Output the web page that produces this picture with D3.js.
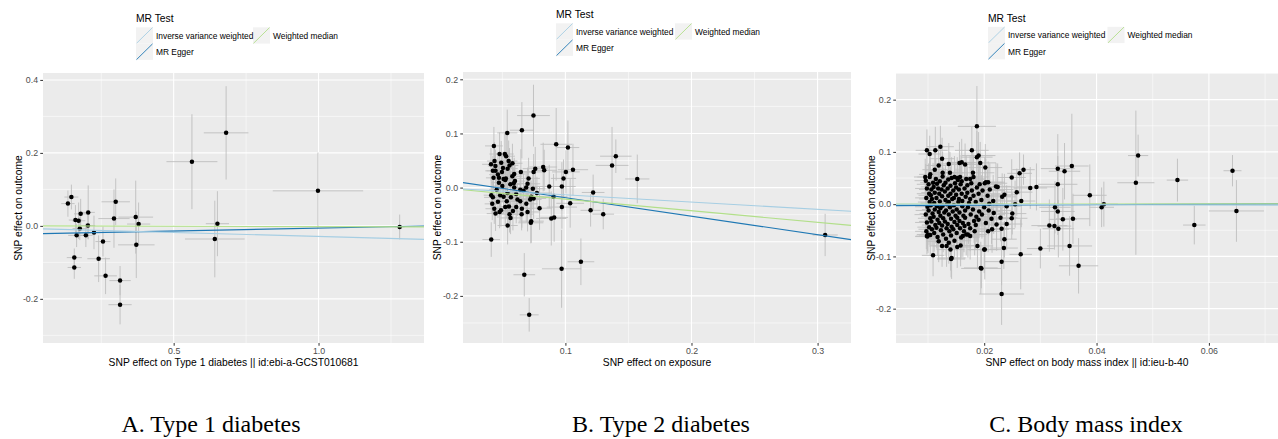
<!DOCTYPE html>
<html>
<head>
<meta charset="utf-8">
<script src="https://cdn.jsdelivr.net/npm/d3@7.9.0/dist/d3.min.js"></script>
<style>
  body { margin: 0; background: #fff; }
  svg { display: block; font-family: "Liberation Sans", Arial, sans-serif; }
</style>
</head>
<body>
<div id="chart"></div>
<script>
// MR methods, same order / colours as the TwoSampleMR scatter plot
const methods = ['Inverse variance weighted', 'MR Egger', 'Weighted median'];
const methodColors = ['#a6cee3', '#1f78b4', '#b2df8a'];
const drawOrder = [1, 2, 0]; // Egger, WM, IVW (order of mr() results)
const legendTitle = 'MR Test';
const yTitle = 'SNP effect on outcome';

// ---- A. Type 1 diabetes : [beta.exposure, beta.outcome, se.exposure, se.outcome]
const t1dSnps = [
  [0.135, 0.061, 0.023, 0.036], [0.147, 0.079, 0.024, 0.034], [0.161, 0.016, 0.023, 0.041],
  [0.172, 0.014, 0.023, 0.050], [0.179, 0.033, 0.023, 0.041], [0.205, 0.037, 0.023, 0.074],
  [0.165, -0.026, 0.029, 0.032], [0.176, -0.007, 0.025, 0.032], [0.204, 0.001, 0.025, 0.036],
  [0.197, -0.026, 0.023, 0.032], [0.225, -0.018, 0.023, 0.046], [0.157, -0.087, 0.026, 0.025],
  [0.157, -0.114, 0.023, 0.031], [0.256, -0.043, 0.026, 0.041], [0.241, -0.090, 0.039, 0.064],
  [0.265, -0.137, 0.039, 0.050], [0.294, 0.020, 0.054, 0.080], [0.300, 0.066, 0.049, 0.064],
  [0.315, -0.150, 0.037, 0.040], [0.315, -0.216, 0.040, 0.054], [0.369, 0.024, 0.060, 0.100],
  [0.379, 0.005, 0.040, 0.059], [0.371, -0.052, 0.063, 0.091], [0.563, 0.176, 0.088, 0.130],
  [0.681, 0.255, 0.077, 0.128], [0.651, 0.006, 0.040, 0.089], [0.642, -0.036, 0.103, 0.105],
  [0.998, 0.096, 0.156, 0.105], [1.280, -0.003, 0.017, 0.034]
];
const t1dIntercepts = [-0.007, -0.022, 0];
const t1dSlopes = [-0.022, 0.016, -0.002];
const t1dXTicks = [0.5, 1.0];
const t1dXLabels = ['0.5', '1.0'];
const t1dXMinor = [0.25, 0.75, 1.25];
const t1dYTicks = [-0.2, 0, 0.2, 0.4];
const t1dYLabels = ['-0.2', '0.0', '0.2', '0.4'];
const t1dYMinor = [-0.3, -0.1, 0.1, 0.3];

// ---- B. Type 2 diabetes
const t2dSnps = [
  [0.0747, 0.133, 0.013, 0.057], [0.0655, 0.106, 0.0095, 0.052], [0.0539, 0.101, 0.008, 0.043],
  [0.0927, 0.080, 0.0125, 0.067], [0.102, 0.074, 0.009, 0.050], [0.0433, 0.077, 0.007, 0.035],
  [0.0478, 0.062, 0.008, 0.040], [0.053, 0.058, 0.007, 0.045], [0.041, 0.043, 0.007, 0.030],
  [0.0438, 0.049, 0.006, 0.035], [0.0491, 0.046, 0.008, 0.040], [0.055, 0.049, 0.007, 0.038],
  [0.0557, 0.041, 0.007, 0.032], [0.0542, 0.035, 0.008, 0.030], [0.0425, 0.031, 0.006, 0.028],
  [0.0446, 0.031, 0.007, 0.030], [0.0497, 0.029, 0.006, 0.033], [0.0473, 0.018, 0.007, 0.030],
  [0.051, 0.016, 0.007, 0.035], [0.0528, 0.017, 0.008, 0.028], [0.0579, 0.021, 0.008, 0.037],
  [0.0594, 0.025, 0.009, 0.030], [0.0647, 0.029, 0.009, 0.042], [0.0761, 0.035, 0.010, 0.040],
  [0.0748, 0.029, 0.009, 0.033], [0.0824, 0.038, 0.011, 0.045], [0.0832, 0.032, 0.010, 0.038],
  [0.1004, 0.029, 0.011, 0.040], [0.106, 0.033, 0.012, 0.048], [0.0985, 0.017, 0.010, 0.035],
  [0.0473, 0.009, 0.006, 0.030], [0.0523, 0.014, 0.007, 0.032], [0.0563, 0.006, 0.008, 0.028],
  [0.0594, 0.000, 0.008, 0.034], [0.0642, -0.004, 0.009, 0.030], [0.0708, 0.017, 0.009, 0.038],
  [0.070, 0.007, 0.010, 0.030], [0.0689, 0.000, 0.009, 0.028], [0.0668, -0.006, 0.008, 0.032],
  [0.0742, -0.002, 0.010, 0.035], [0.0774, -0.010, 0.011, 0.030], [0.0872, 0.002, 0.012, 0.040],
  [0.0972, 0.002, 0.011, 0.045], [0.0412, -0.014, 0.006, 0.028], [0.0425, -0.018, 0.007, 0.030],
  [0.0483, -0.014, 0.007, 0.033], [0.051, -0.017, 0.008, 0.030], [0.0541, -0.010, 0.007, 0.035],
  [0.0568, -0.018, 0.008, 0.030], [0.061, -0.012, 0.008, 0.032], [0.0642, -0.025, 0.009, 0.036],
  [0.0721, -0.022, 0.009, 0.033], [0.0729, -0.017, 0.010, 0.030], [0.0748, -0.020, 0.010, 0.038],
  [0.0906, -0.017, 0.011, 0.042], [0.0972, -0.036, 0.012, 0.040], [0.1038, -0.029, 0.011, 0.045],
  [0.042, -0.030, 0.006, 0.030], [0.0436, -0.039, 0.007, 0.028], [0.0489, -0.042, 0.007, 0.030],
  [0.0523, -0.036, 0.008, 0.033], [0.0552, -0.035, 0.007, 0.030], [0.0584, -0.043, 0.008, 0.036],
  [0.061, -0.036, 0.009, 0.030], [0.0655, -0.039, 0.009, 0.035], [0.0795, -0.038, 0.010, 0.040],
  [0.0446, -0.048, 0.007, 0.032], [0.0478, -0.045, 0.007, 0.030], [0.0557, -0.049, 0.008, 0.034],
  [0.0653, -0.049, 0.009, 0.030], [0.0888, -0.057, 0.012, 0.050], [0.0911, -0.055, 0.011, 0.045],
  [0.0729, -0.062, 0.010, 0.040], [0.0726, -0.065, 0.010, 0.038], [0.0542, -0.070, 0.008, 0.035],
  [0.0412, -0.096, 0.007, 0.032], [0.097, -0.150, 0.0156, 0.072], [0.1123, -0.137, 0.0106, 0.043],
  [0.122, -0.009, 0.009, 0.033], [0.120, -0.042, 0.008, 0.030], [0.130, -0.049, 0.0086, 0.028],
  [0.140, 0.058, 0.0125, 0.031], [0.137, 0.041, 0.013, 0.071], [0.157, 0.016, 0.0096, 0.045],
  [0.306, -0.0875, 0.010, 0.039], [0.0674, -0.161, 0.0086, 0.040], [0.0713, -0.235, 0.0075, 0.031],
  [0.0445, 0.040, 0.006, 0.030], [0.0465, 0.024, 0.007, 0.032], [0.0505, 0.036, 0.007, 0.030],
  [0.058, 0.045, 0.008, 0.036], [0.060, 0.012, 0.008, 0.030], [0.0455, -0.004, 0.006, 0.028],
  [0.050, 0.003, 0.007, 0.030], [0.0535, -0.025, 0.007, 0.032], [0.062, -0.022, 0.008, 0.030],
  [0.069, -0.030, 0.009, 0.034], [0.0465, -0.026, 0.007, 0.030], [0.059, 0.008, 0.008, 0.030],
  [0.043, 0.018, 0.006, 0.030], [0.052, 0.062, 0.007, 0.040], [0.070, -0.045, 0.009, 0.036],
  [0.0565, -0.056, 0.008, 0.030]
];
const t2dIntercepts = [0, 0.0156, 0];
const t2dSlopes = [-0.134, -0.342, -0.2135];
const t2dXTicks = [0.1, 0.2, 0.3];
const t2dXLabels = ['0.1', '0.2', '0.3'];
const t2dXMinor = [0.05, 0.15, 0.25];
const t2dYTicks = [-0.2, -0.1, 0, 0.1, 0.2];
const t2dYLabels = ['-0.2', '-0.1', '0.0', '0.1', '0.2'];
const t2dYMinor = [-0.25, -0.15, -0.05, 0.05, 0.15];

// ---- C. Body mass index
const bmiSnps = [
  // sparse points
  [0.0187, 0.149, 0.0034, 0.077], [0.0474, 0.093, 0.0018, 0.040], [0.0470, 0.041, 0.0033, 0.138],
  [0.0544, 0.046, 0.0019, 0.041], [0.0642, 0.064, 0.0016, 0.030], [0.0649, -0.013, 0.0049, 0.059],
  [0.0574, -0.040, 0.0020, 0.037], [0.0388, 0.017, 0.0030, 0.059], [0.0413, 0.000, 0.0025, 0.043],
  [0.0409, -0.006, 0.0022, 0.038], [0.0368, -0.118, 0.0035, 0.053], [0.0352, -0.080, 0.0040, 0.057],
  [0.0300, -0.085, 0.0024, 0.038], [0.0265, -0.096, 0.0020, 0.067], [0.0231, -0.172, 0.0040, 0.059],
  [0.0195, -0.123, 0.0036, 0.038], [0.0201, -0.087, 0.0024, 0.057], [0.0231, -0.110, 0.0030, 0.045],
  [0.0235, -0.084, 0.0025, 0.040], [0.0236, -0.067, 0.0022, 0.035], [0.0249, 0.051, 0.0025, 0.035],
  [0.0263, 0.059, 0.0022, 0.040], [0.0270, 0.066, 0.0020, 0.029], [0.0258, 0.023, 0.0028, 0.045],
  [0.0266, 0.006, 0.0025, 0.050], [0.0282, 0.031, 0.0030, 0.040], [0.0293, 0.033, 0.0035, 0.045],
  [0.0331, 0.068, 0.0030, 0.066], [0.0343, 0.063, 0.0028, 0.054], [0.0356, 0.073, 0.0030, 0.100],
  [0.0331, 0.038, 0.0035, 0.054], [0.0326, -0.006, 0.0028, 0.050], [0.0331, -0.014, 0.0030, 0.045],
  [0.0340, -0.029, 0.0025, 0.060], [0.0358, -0.028, 0.0030, 0.048], [0.0316, -0.041, 0.0032, 0.050],
  [0.0325, -0.042, 0.0030, 0.045], [0.0332, -0.047, 0.0028, 0.055], [0.0250, -0.018, 0.0025, 0.040],
  [0.0255, 0.000, 0.0028, 0.045], [0.0240, -0.004, 0.0025, 0.040], [0.0236, 0.018, 0.0022, 0.040],
  [0.0232, 0.014, 0.0025, 0.045], [0.0240, -0.038, 0.0028, 0.050], [0.0231, -0.047, 0.0024, 0.040],
  [0.0221, 0.034, 0.0026, 0.045], [0.0222, -0.039, 0.0025, 0.050], [0.0214, -0.048, 0.0030, 0.045],
  [0.0207, -0.052, 0.0024, 0.040], [0.0217, -0.017, 0.0026, 0.040], [0.0209, 0.001, 0.0025, 0.045],
  [0.0249, -0.027, 0.0028, 0.040], [0.0229, -0.026, 0.0030, 0.045],
  // upper edge of the cluster
  [0.0098, 0.103, 0.0020, 0.040], [0.0103, 0.096, 0.0020, 0.035], [0.0113, 0.103, 0.0022, 0.045],
  [0.0122, 0.110, 0.0024, 0.040], [0.0125, 0.087, 0.0022, 0.040], [0.0178, 0.103, 0.0030, 0.045],
  [0.0187, 0.090, 0.0028, 0.050], [0.0190, 0.093, 0.0030, 0.045], [0.0193, 0.079, 0.0028, 0.040],
  [0.0202, 0.070, 0.0030, 0.045], [0.0156, 0.079, 0.0025, 0.040], [0.0160, 0.080, 0.0025, 0.045],
  [0.0166, 0.076, 0.0026, 0.040], [0.0119, 0.074, 0.0022, 0.040], [0.0137, 0.077, 0.0024, 0.040],
  [0.0112, 0.066, 0.0022, 0.040], [0.0095, 0.052, 0.0020, 0.035], [0.0104, 0.057, 0.0020, 0.040],
  [0.0126, 0.060, 0.0023, 0.040], [0.0139, 0.060, 0.0024, 0.040], [0.0147, 0.052, 0.0025, 0.040],
  [0.0152, 0.050, 0.0025, 0.040], [0.0175, 0.048, 0.0026, 0.045], [0.0181, 0.052, 0.0027, 0.040],
  [0.0203, 0.042, 0.0030, 0.045], [0.0207, 0.042, 0.0030, 0.040], [0.0224, 0.033, 0.0030, 0.045],
  // lower edge of the cluster
  [0.0109, -0.098, 0.0020, 0.040], [0.0098, -0.061, 0.0020, 0.035], [0.0104, -0.059, 0.0020, 0.040],
  [0.0119, -0.071, 0.0022, 0.040], [0.0125, -0.080, 0.0023, 0.040], [0.0133, -0.080, 0.0024, 0.040],
  [0.0137, -0.074, 0.0024, 0.040], [0.0140, -0.087, 0.0025, 0.040], [0.0141, -0.105, 0.0025, 0.035],
  [0.0142, -0.103, 0.0025, 0.040], [0.0152, -0.082, 0.0025, 0.040], [0.0158, -0.079, 0.0026, 0.040],
  [0.0162, -0.061, 0.0026, 0.040], [0.0168, -0.058, 0.0026, 0.040], [0.0175, -0.061, 0.0027, 0.045],
  [0.0188, -0.080, 0.0028, 0.045], [0.0200, -0.087, 0.0030, 0.045], [0.0194, -0.122, 0.0030, 0.050],
  // dense core
  [0.0096, 0.045, 0.0020, 0.032], [0.0098, 0.030, 0.0021, 0.036], [0.0097, 0.012, 0.0020, 0.030],
  [0.0099, -0.005, 0.0022, 0.034], [0.0096, -0.020, 0.0020, 0.038], [0.0098, -0.035, 0.0021, 0.030],
  [0.0097, -0.052, 0.0020, 0.034], [0.0099, -0.062, 0.0022, 0.028], [0.0101, 0.038, 0.0021, 0.040],
  [0.0102, 0.020, 0.0022, 0.034], [0.0103, 0.004, 0.0021, 0.036], [0.0101, -0.012, 0.0023, 0.032],
  [0.0104, -0.027, 0.0022, 0.040], [0.0102, -0.044, 0.0021, 0.034], [0.0103, 0.052, 0.0022, 0.030],
  [0.0100, -0.058, 0.0020, 0.036], [0.0106, 0.028, 0.0022, 0.038], [0.0107, 0.010, 0.0023, 0.030],
  [0.0105, -0.002, 0.0022, 0.042], [0.0108, -0.018, 0.0023, 0.034], [0.0106, -0.033, 0.0022, 0.036],
  [0.0107, -0.048, 0.0024, 0.032], [0.0109, 0.041, 0.0023, 0.038], [0.0105, 0.017, 0.0022, 0.030],
  [0.0110, 0.033, 0.0023, 0.036], [0.0111, 0.002, 0.0024, 0.040], [0.0112, -0.010, 0.0023, 0.032],
  [0.0110, -0.024, 0.0022, 0.038], [0.0113, -0.040, 0.0024, 0.034], [0.0111, -0.055, 0.0023, 0.036],
  [0.0112, 0.022, 0.0024, 0.030], [0.0114, 0.048, 0.0023, 0.040], [0.0115, 0.012, 0.0024, 0.034],
  [0.0116, -0.004, 0.0025, 0.038], [0.0117, -0.030, 0.0024, 0.032], [0.0115, -0.045, 0.0023, 0.040],
  [0.0118, 0.030, 0.0025, 0.034], [0.0116, 0.039, 0.0024, 0.036], [0.0119, -0.015, 0.0025, 0.030],
  [0.0117, -0.063, 0.0024, 0.036], [0.0120, 0.020, 0.0025, 0.038], [0.0121, 0.005, 0.0024, 0.032],
  [0.0122, -0.022, 0.0026, 0.036], [0.0120, -0.036, 0.0025, 0.040], [0.0123, -0.050, 0.0024, 0.034],
  [0.0121, 0.044, 0.0025, 0.036], [0.0124, 0.028, 0.0026, 0.032], [0.0122, -0.008, 0.0025, 0.040],
  [0.0125, 0.015, 0.0026, 0.034], [0.0126, -0.003, 0.0025, 0.036], [0.0127, -0.027, 0.0026, 0.032],
  [0.0125, -0.041, 0.0027, 0.038], [0.0128, 0.036, 0.0026, 0.034], [0.0126, 0.053, 0.0025, 0.040],
  [0.0129, -0.016, 0.0027, 0.036], [0.0127, -0.058, 0.0026, 0.034], [0.0130, 0.024, 0.0027, 0.038],
  [0.0131, 0.008, 0.0026, 0.032], [0.0132, -0.012, 0.0027, 0.040], [0.0130, -0.033, 0.0028, 0.034],
  [0.0133, -0.046, 0.0027, 0.036], [0.0131, 0.041, 0.0026, 0.032], [0.0134, 0.000, 0.0028, 0.038],
  [0.0132, -0.066, 0.0027, 0.034], [0.0135, 0.030, 0.0028, 0.036], [0.0136, 0.016, 0.0027, 0.040],
  [0.0137, -0.020, 0.0028, 0.032], [0.0135, -0.038, 0.0029, 0.038], [0.0138, -0.052, 0.0028, 0.034],
  [0.0136, 0.047, 0.0027, 0.036], [0.0139, -0.006, 0.0029, 0.040], [0.0137, 0.004, 0.0028, 0.032],
  [0.0140, 0.020, 0.0029, 0.038], [0.0141, -0.028, 0.0028, 0.034], [0.0142, -0.043, 0.0029, 0.040],
  [0.0140, 0.035, 0.0030, 0.036], [0.0143, 0.010, 0.0029, 0.032], [0.0141, -0.060, 0.0028, 0.038],
  [0.0144, -0.014, 0.0030, 0.034], [0.0142, 0.050, 0.0029, 0.040], [0.0145, 0.026, 0.0030, 0.036],
  [0.0146, -0.002, 0.0029, 0.040], [0.0147, -0.034, 0.0030, 0.034], [0.0145, -0.048, 0.0031, 0.038],
  [0.0148, 0.040, 0.0030, 0.036], [0.0146, 0.012, 0.0029, 0.032], [0.0149, -0.022, 0.0031, 0.040],
  [0.0147, -0.070, 0.0030, 0.036], [0.0150, 0.018, 0.0031, 0.038], [0.0151, -0.010, 0.0030, 0.034],
  [0.0152, -0.040, 0.0031, 0.040], [0.0150, 0.032, 0.0032, 0.036], [0.0153, 0.046, 0.0031, 0.038],
  [0.0151, -0.055, 0.0030, 0.034], [0.0154, 0.004, 0.0032, 0.040], [0.0152, -0.026, 0.0031, 0.036],
  [0.0155, 0.028, 0.0032, 0.040], [0.0156, -0.016, 0.0031, 0.036], [0.0157, -0.046, 0.0032, 0.038],
  [0.0155, 0.010, 0.0033, 0.034], [0.0158, 0.038, 0.0032, 0.040], [0.0156, -0.032, 0.0031, 0.036],
  [0.0159, -0.064, 0.0033, 0.038], [0.0157, 0.052, 0.0032, 0.042], [0.0160, 0.020, 0.0033, 0.038],
  [0.0161, -0.004, 0.0032, 0.042], [0.0162, -0.036, 0.0033, 0.036], [0.0160, 0.044, 0.0034, 0.040],
  [0.0163, -0.022, 0.0033, 0.038], [0.0161, 0.006, 0.0032, 0.036], [0.0164, -0.052, 0.0034, 0.040],
  [0.0165, 0.030, 0.0034, 0.042], [0.0166, -0.012, 0.0033, 0.038], [0.0167, 0.014, 0.0034, 0.040],
  [0.0165, -0.042, 0.0035, 0.036], [0.0168, 0.048, 0.0034, 0.044], [0.0166, -0.026, 0.0033, 0.040],
  [0.0170, 0.022, 0.0035, 0.040], [0.0171, -0.006, 0.0034, 0.044], [0.0172, -0.038, 0.0035, 0.038],
  [0.0170, 0.036, 0.0036, 0.042], [0.0173, 0.002, 0.0035, 0.040], [0.0171, -0.058, 0.0034, 0.044],
  [0.0175, 0.010, 0.0036, 0.042], [0.0176, -0.020, 0.0035, 0.046], [0.0177, 0.040, 0.0036, 0.040],
  [0.0175, -0.046, 0.0037, 0.044], [0.0178, 0.026, 0.0036, 0.042], [0.0180, -0.010, 0.0037, 0.044],
  [0.0181, 0.016, 0.0036, 0.046], [0.0182, -0.032, 0.0037, 0.042], [0.0180, 0.060, 0.0038, 0.044],
  [0.0183, -0.052, 0.0037, 0.046], [0.0185, 0.004, 0.0038, 0.044], [0.0186, -0.024, 0.0037, 0.048],
  [0.0187, 0.032, 0.0038, 0.044], [0.0185, -0.040, 0.0039, 0.046], [0.0190, 0.020, 0.0039, 0.046],
  [0.0191, -0.014, 0.0038, 0.048], [0.0192, 0.038, 0.0039, 0.044], [0.0190, -0.030, 0.0040, 0.046],
  [0.0195, 0.008, 0.0040, 0.048], [0.0196, -0.020, 0.0039, 0.046], [0.0197, 0.026, 0.0040, 0.050],
  [0.0200, -0.006, 0.0041, 0.048], [0.0201, 0.040, 0.0040, 0.050], [0.0203, -0.036, 0.0041, 0.046],
  [0.0206, 0.016, 0.0042, 0.050], [0.0208, -0.012, 0.0041, 0.048], [0.0210, 0.028, 0.0042, 0.050],
  [0.0213, -0.028, 0.0043, 0.048], [0.0216, 0.006, 0.0042, 0.050]
];
const bmiIntercepts = [0, -0.003, 0];
const bmiSlopes = [-0.03, 0.05, 0.01];
const bmiXTicks = [0.02, 0.04, 0.06];
const bmiXLabels = ['0.02', '0.04', '0.06'];
const bmiXMinor = [0.01, 0.03, 0.05, 0.07];
const bmiYTicks = [-0.2, -0.1, 0, 0.1, 0.2];
const bmiYLabels = ['-0.2', '-0.1', '0.0', '0.1', '0.2'];
const bmiYMinor = [-0.25, -0.15, -0.05, 0.05, 0.15, 0.25];

const captions = ['A. Type 1 diabetes', 'B. Type 2 diabetes', 'C. Body mass index'];

// layout of the three ggplot panels (pixels)
const panels = [
  { snps: t1dSnps, a: t1dIntercepts, b: t1dSlopes,
    xDomain: [0.049, 1.364], yDomain: [-0.321, 0.419],
    xTicks: t1dXTicks, xLabels: t1dXLabels, xMinor: t1dXMinor,
    yTicks: t1dYTicks, yLabels: t1dYLabels, yMinor: t1dYMinor,
    xTitle: 'SNP effect on Type 1 diabetes || id:ebi-a-GCST010681',
    box: { left: 43, right: 424, top: 73, bottom: 343 }, yTitleX: 18,
    legend: { x: 136, y: 22, col2: 117 }, caption: { x: 211, text: captions[0] } },
  { snps: t2dSnps, a: t2dIntercepts, b: t2dSlopes,
    xDomain: [0.0188, 0.3265], yDomain: [-0.287, 0.2135],
    xTicks: t2dXTicks, xLabels: t2dXLabels, xMinor: t2dXMinor,
    yTicks: t2dYTicks, yLabels: t2dYLabels, yMinor: t2dYMinor,
    xTitle: 'SNP effect on exposure',
    box: { left: 463, right: 851, top: 72, bottom: 343 }, yTitleX: 437,
    legend: { x: 556, y: 18, col2: 119 }, caption: { x: 661, text: captions[1] } },
  { snps: bmiSnps, a: bmiIntercepts, b: bmiSlopes,
    xDomain: [0.0043, 0.0723], yDomain: [-0.2657, 0.251],
    xTicks: bmiXTicks, xLabels: bmiXLabels, xMinor: bmiXMinor,
    yTicks: bmiYTicks, yLabels: bmiYLabels, yMinor: bmiYMinor,
    xTitle: 'SNP effect on body mass index || id:ieu-b-40',
    box: { left: 896, right: 1278, top: 73, bottom: 343 }, yTitleX: 871,
    legend: { x: 988, y: 21.5, col2: 119.5 }, caption: { x: 1086, text: captions[2] } }
];

const width = 1278, height = 439;
const svg = d3.select('#chart').append('svg')
  .attr('width', width).attr('height', height);
svg.append('rect').attr('width', width).attr('height', height).attr('fill', '#fff');

function renderPanel(p, idx) {
  const { left, right, top, bottom } = p.box;
  const x = d3.scaleLinear().domain(p.xDomain).range([left, right]);
  const y = d3.scaleLinear().domain(p.yDomain).range([bottom, top]);
  const g = svg.append('g');

  const clipId = `clip-${idx}`;
  svg.append('clipPath').attr('id', clipId)
    .append('rect').attr('x', left).attr('y', top)
    .attr('width', right - left).attr('height', bottom - top);

  // panel background + grid
  g.append('rect').attr('x', left).attr('y', top)
    .attr('width', right - left).attr('height', bottom - top).attr('fill', '#ebebeb');

  const grid = g.append('g').attr('clip-path', `url(#${clipId})`);
  grid.selectAll('.xminor').data(p.xMinor).join('line')
    .attr('x1', d => x(d)).attr('x2', d => x(d)).attr('y1', top).attr('y2', bottom)
    .attr('stroke', '#fff').attr('stroke-width', 0.55);
  grid.selectAll('.yminor').data(p.yMinor).join('line')
    .attr('y1', d => y(d)).attr('y2', d => y(d)).attr('x1', left).attr('x2', right)
    .attr('stroke', '#fff').attr('stroke-width', 0.55);
  grid.selectAll('.xmajor').data(p.xTicks).join('line')
    .attr('x1', d => x(d)).attr('x2', d => x(d)).attr('y1', top).attr('y2', bottom)
    .attr('stroke', '#fff').attr('stroke-width', 1.1);
  grid.selectAll('.ymajor').data(p.yTicks).join('line')
    .attr('y1', d => y(d)).attr('y2', d => y(d)).attr('x1', left).attr('x2', right)
    .attr('stroke', '#fff').attr('stroke-width', 1.1);

  // error bars, points, then MR lines
  const marks = g.append('g').attr('clip-path', `url(#${clipId})`);
  marks.selectAll('.ebar').data(p.snps).join('line')
    .attr('x1', d => x(d[0])).attr('x2', d => x(d[0]))
    .attr('y1', d => y(d[1] - d[3])).attr('y2', d => y(d[1] + d[3]))
    .attr('stroke', '#bebebe').attr('stroke-width', 0.9);
  marks.selectAll('.ebarh').data(p.snps).join('line')
    .attr('y1', d => y(d[1])).attr('y2', d => y(d[1]))
    .attr('x1', d => x(d[0] - d[2])).attr('x2', d => x(d[0] + d[2]))
    .attr('stroke', '#bebebe').attr('stroke-width', 0.9);
  marks.selectAll('.pt').data(p.snps).join('circle')
    .attr('cx', d => x(d[0])).attr('cy', d => y(d[1])).attr('r', 2.25)
    .attr('fill', '#000');

  const [x0, x1] = p.xDomain;
  marks.selectAll('.mr-line').data(drawOrder).join('line')
    .attr('x1', x(x0)).attr('x2', x(x1))
    .attr('y1', i => y(p.a[i] + p.b[i] * x0))
    .attr('y2', i => y(p.a[i] + p.b[i] * x1))
    .attr('stroke', i => methodColors[i]).attr('stroke-width', 1.1);

  // axes
  const yAxis = g.append('g').attr('transform', `translate(${left},0)`)
    .call(d3.axisLeft(y).tickValues(p.yTicks).tickFormat((d, i) => p.yLabels[i])
      .tickSize(2.75).tickPadding(2.2));
  const xAxis = g.append('g').attr('transform', `translate(0,${bottom})`)
    .call(d3.axisBottom(x).tickValues(p.xTicks).tickFormat((d, i) => p.xLabels[i])
      .tickSize(2.75).tickPadding(2.2));
  [xAxis, yAxis].forEach(ax => {
    ax.select('.domain').remove();
    ax.selectAll('line').attr('stroke', '#333').attr('stroke-width', 1);
    ax.selectAll('text').attr('fill', '#4d4d4d')
      .style('font-size', '8.8px').style('font-family', '"Liberation Sans", Arial, sans-serif');
  });

  // axis titles
  g.append('text').attr('x', (left + right) / 2).attr('y', 366)
    .attr('text-anchor', 'middle').style('font-size', '10.3px').attr('fill', '#000')
    .text(p.xTitle);
  g.append('text')
    .attr('transform', `translate(${p.yTitleX},${(top + bottom) / 2}) rotate(-90)`)
    .attr('text-anchor', 'middle').attr('dy', '0.35em')
    .style('font-size', '10.3px').attr('fill', '#000')
    .text(yTitle);

  // legend (two columns: IVW / MR Egger, then Weighted median)
  const lg = g.append('g');
  lg.append('text').attr('x', p.legend.x).attr('y', p.legend.y)
    .style('font-size', '10.3px').attr('fill', '#000').text(legendTitle);
  const keyPos = [[0, 0], [0, 1], [1, 0]];
  const keys = methods.map((m, i) => ({
    m, i,
    kx: p.legend.x + keyPos[i][0] * p.legend.col2,
    ky: p.legend.y + 5.3 + keyPos[i][1] * 16.3
  }));
  keys.forEach(k => {
    lg.append('rect').attr('x', k.kx).attr('y', k.ky).attr('width', 17).attr('height', 16.3)
      .attr('fill', '#f2f2f2');
    lg.append('line').attr('x1', k.kx + 0.5).attr('y1', k.ky + 16).attr('x2', k.kx + 16.5).attr('y2', k.ky + 0.3)
      .attr('stroke', methodColors[k.i]).attr('stroke-width', 0.9);
  });
  keys.forEach(k => {
    lg.append('text').attr('x', k.kx + 20).attr('y', k.ky + 11.6)
      .style('font-size', '8.4px').attr('fill', '#000').text(k.m);
  });

  // caption below the panel
  svg.append('text').attr('x', p.caption.x).attr('y', 432)
    .attr('text-anchor', 'middle')
    .style('font-family', '"Liberation Serif", "Times New Roman", serif')
    .style('font-size', '24px').attr('fill', '#000')
    .text(p.caption.text);
}

panels.forEach(renderPanel);
</script>
</body>
</html>
